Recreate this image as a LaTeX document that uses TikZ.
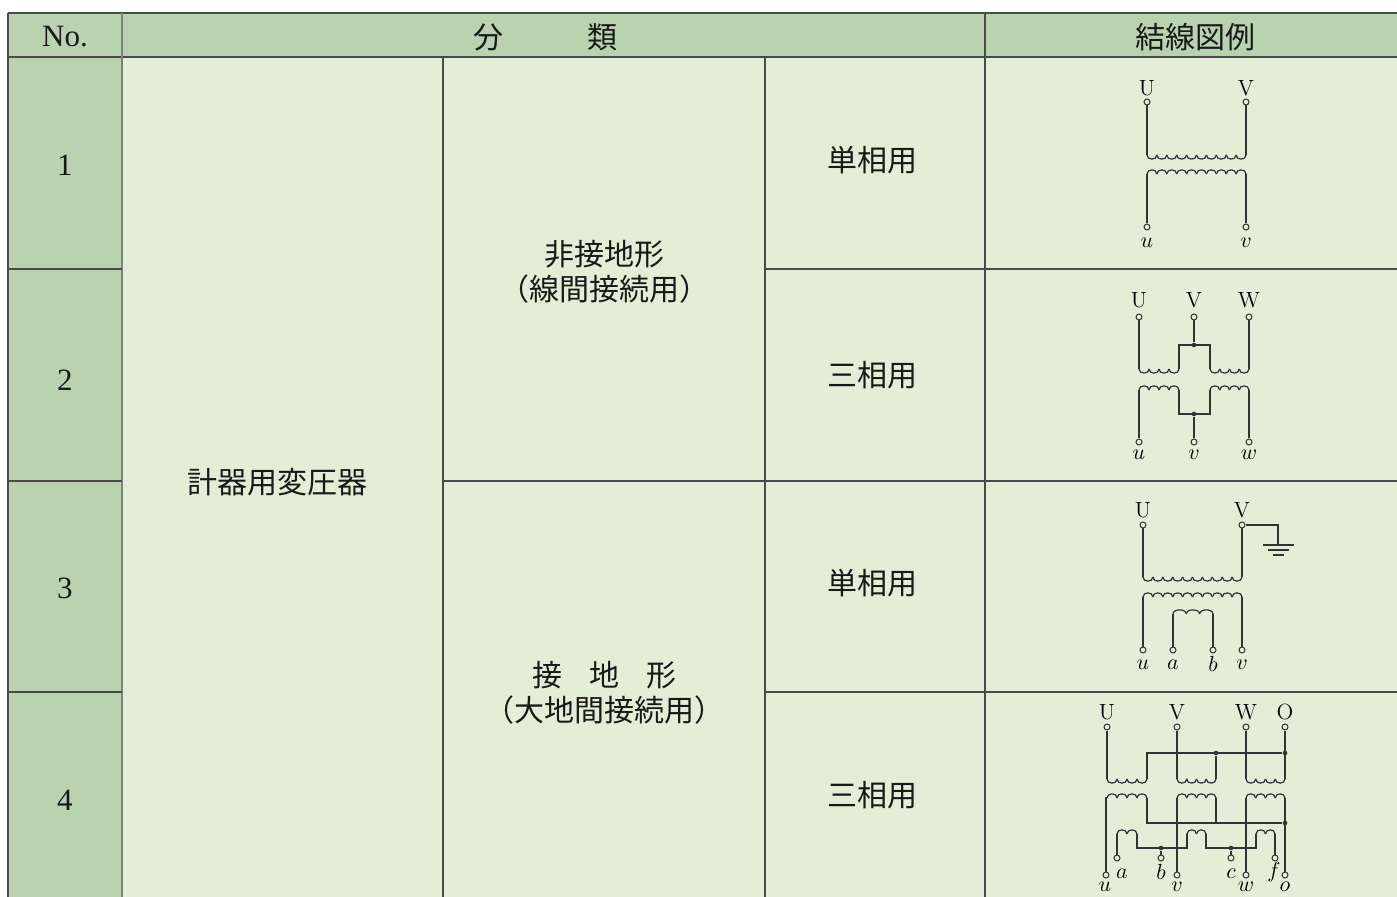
\documentclass[tikz,border=0pt]{standalone}
\usepackage{fontspec}
\newfontfamily\jp{Noto Sans CJK JP}
\newfontfamily\numfont{Liberation Serif}
\definecolor{headgreen}{HTML}{B9D2B0}
\definecolor{cellgreen}{HTML}{E2EFD6}
\definecolor{rulegray}{HTML}{4A4A4A}
\definecolor{wiregray}{HTML}{333333}

% one winding: x start, y, width, turns, bulge (+ down, - up)
\newcommand{\winding}[5]{%
  \pgfmathsetmacro{\turnw}{#3/#4}%
  \foreach \k in {1,...,#4}{%
    \draw[wire] ({#1+(\k-1)*\turnw},#2) .. controls ({#1+(\k-1)*\turnw},{#2+(#5)}) and ({#1+\k*\turnw},{#2+(#5)}) .. ({#1+\k*\turnw},#2);
  }%
}

\begin{document}
\begin{tikzpicture}[x=0.5pt, y=-0.5pt,
    wire/.style={draw=wiregray, line width=0.6pt},
    rule/.style={draw=rulegray, line width=0.6pt},
    term/.style={circle, draw=wiregray, line width=0.5pt, fill=cellgreen, inner sep=0pt, minimum size=3pt},
    junction/.style={circle, fill=wiregray, inner sep=0pt, minimum size=2.3pt},
    lbl/.style={font=\fontsize{11}{13}\selectfont, inner sep=0pt},
    jptext/.style={font=\jp\fontsize{15}{17.5}\selectfont, align=center, text=black!90},
    numtext/.style={font=\numfont\fontsize{15.5}{18}\selectfont, text=black!90}]
    \useasboundingbox (0,0) rectangle (1397,897);

    % Cells
    \fill[headgreen] (8,13) rectangle (1397,57);
    \fill[headgreen] (8,57) rectangle (122,897);
    \fill[cellgreen] (122,57) rectangle (1397,897);

    % Rules
    \draw[rule, line width=1.1pt] (8,13) -- (1397,13);
    \draw[rule] (8,57) -- (1397,57);
    \draw[rule, line width=1pt] (8,13) -- (8,897);
    \draw[rule, draw=gray, line width=0.9pt] (122,13) -- (122,897);
    \draw[rule] (443,57) -- (443,897);
    \draw[rule] (765,57) -- (765,897);
    \draw[rule] (985,13) -- (985,897);
    \draw[rule] (8,269) -- (122,269);
    \draw[rule] (8,481) -- (122,481);
    \draw[rule] (8,692) -- (122,692);
    \draw[rule] (765,269) -- (1397,269);
    \draw[rule] (443,481) -- (1397,481);
    \draw[rule] (765,692) -- (1397,692);

    % Header
    \node[numtext] (hno) at (65,37) {No.};
    \node[jptext] (hclass) at (545,37) {分\hspace{2.8em}類};
    \node[jptext] (hwire) at (1195,37) {結線図例};

    % Numbers
    \node[numtext] (n1) at (65,165) {1};
    \node[numtext] (n2) at (65,380) {2};
    \node[numtext] (n3) at (65,588) {3};
    \node[numtext] (n4) at (65,800) {4};

    % Classification
    \node[jptext] (vt) at (277,482) {計器用変圧器};
    \node[jptext] (ungr) at (604,272) {非接地形\\（線間接続用）};
    \node[jptext] (grnd) at (604,693) {接\hspace{0.9em}地\hspace{0.9em}形\\（大地間接続用）};
    \node[jptext] (r1) at (872,160) {単相用};
    \node[jptext] (r2) at (872,375) {三相用};
    \node[jptext] (r3) at (872,583) {単相用};
    \node[jptext] (r4) at (872,795) {三相用};

    % Diagram 1
    \node[term] (t1U) at (1147,102) {};
    \node[term] (t1V) at (1246,102) {};
    \node[term] (t1u) at (1147,227) {};
    \node[term] (t1v) at (1246,227) {};
    \draw[wire] (t1U) -- (1147,155);
    \draw[wire] (t1V) -- (1246,155);
    \winding{1147}{155}{99}{10}{5.5}
    \winding{1147}{174}{99}{10}{-5.5}
    \draw[wire] (t1u) -- (1147,174);
    \draw[wire] (t1v) -- (1246,174);
    \node[lbl] at (1147,88) {U};
    \node[lbl] at (1246,88) {V};
    \node[lbl] at (1147,243) {$u$};
    \node[lbl] at (1246,243) {$v$};

    % Diagram 2
    \node[term] (t2U) at (1139,317) {};
    \node[term] (t2V) at (1194,317) {};
    \node[term] (t2W) at (1249,317) {};
    \node[term] (t2u) at (1139,442) {};
    \node[term] (t2v) at (1194,442) {};
    \node[term] (t2w) at (1249,442) {};
    \node[junction] (j2p) at (1194,345) {};
    \node[junction] (j2s) at (1194,414) {};
    \draw[wire] (t2U) -- (1139,369);
    \draw[wire] (t2W) -- (1249,369);
    \draw[wire] (1179,369) |- (1210,345) -- (1210,369);
    \draw[wire] (t2V) -- (j2p);
    \winding{1139}{369}{40}{4}{5.5}
    \winding{1210}{369}{39}{4}{5.5}
    \winding{1139}{390}{40}{4}{-5.5}
    \winding{1210}{390}{39}{4}{-5.5}
    \draw[wire] (1179,390) |- (1210,414) -- (1210,390);
    \draw[wire] (t2u) -- (1139,390);
    \draw[wire] (t2w) -- (1249,390);
    \draw[wire] (t2v) -- (j2s);
    \node[lbl] at (1139,300) {U};
    \node[lbl] at (1194,300) {V};
    \node[lbl] at (1249,300) {W};
    \node[lbl] at (1139,455) {$u$};
    \node[lbl] at (1194,455) {$v$};
    \node[lbl] at (1249,455) {$w$};

    % Diagram 3
    \node[term] (t3U) at (1143,525) {};
    \node[term] (t3V) at (1242,525) {};
    \node[term] (t3u) at (1143,650) {};
    \node[term] (t3a) at (1173,650) {};
    \node[term] (t3b) at (1213,650) {};
    \node[term] (t3v) at (1242,650) {};
    \draw[wire] (t3U) -- (1143,577);
    \draw[wire] (t3V) -- (1242,577);
    \winding{1143}{577}{99}{10}{5.5}
    \winding{1143}{597}{99}{10}{-5.5}
    \winding{1173}{614}{40}{3}{-5.5}
    \draw[wire] (t3u) -- (1143,597);
    \draw[wire] (t3v) -- (1242,597);
    \draw[wire] (t3a) -- (1173,614);
    \draw[wire] (t3b) -- (1213,614);
    % Earth
    \draw[wire] (t3V) -| (1278,545);
    \draw[wire] (1263,545) -- (1294,545);
    \draw[wire] (1268,550) -- (1289,550);
    \draw[wire] (1273,555) -- (1284,555);
    \node[lbl] at (1143,510) {U};
    \node[lbl] at (1242,510) {V};
    \node[lbl] at (1143,665) {$u$};
    \node[lbl] at (1173,665) {$a$};
    \node[lbl] at (1213,664) {$b$};
    \node[lbl] at (1242,665) {$v$};

    % Diagram 4
    \node[term] (t4U) at (1107,727) {};
    \node[term] (t4V) at (1177,727) {};
    \node[term] (t4W) at (1246,727) {};
    \node[term] (t4O) at (1285,727) {};
    \node[term] (t4u) at (1106,875) {};
    \node[term] (t4v) at (1177,875) {};
    \node[term] (t4w) at (1246,875) {};
    \node[term] (t4o) at (1285,875) {};
    \node[term] (t4a) at (1117,858) {};
    \node[term] (t4b) at (1161,858) {};
    \node[term] (t4c) at (1231,858) {};
    \node[term] (t4f) at (1275,858) {};
    \node[junction] (j4p) at (1216,753) {};
    \node[junction] (j4n) at (1285,753) {};
    \node[junction] (j4s) at (1285,823) {};
    \node[junction] (j4b) at (1161,848) {};
    \node[junction] (j4c) at (1231,848) {};
    % primary
    \draw[wire] (t4U) -- (1107,779);
    \draw[wire] (t4V) -- (1177,779);
    \draw[wire] (t4W) -- (1246,779);
    \draw[wire] (t4O) -- (1285,779);
    \draw[wire] (1147,779) |- (j4n);
    \draw[wire] (1216,779) -- (j4p);
    \winding{1107}{779}{40}{4}{5.5}
    \winding{1177}{779}{39}{4}{5.5}
    \winding{1246}{779}{39}{4}{5.5}
    % secondary
    \winding{1107}{798}{40}{4}{-5.5}
    \winding{1177}{798}{39}{4}{-5.5}
    \winding{1246}{798}{39}{4}{-5.5}
    \draw[wire] (t4u) -- (1106,798) -- (1107,798);
    \draw[wire] (t4v) -- (1177,798);
    \draw[wire] (t4w) -- (1246,798);
    \draw[wire] (t4o) -- (1285,798);
    \draw[wire] (1147,798) |- (j4s);
    \draw[wire] (1216,798) -- (1216,823);
    % tertiary
    \winding{1117}{834}{20}{2}{-5.5}
    \winding{1187}{834}{19}{2}{-5.5}
    \winding{1256}{834}{19}{2}{-5.5}
    \draw[wire] (t4a) -- (1117,834);
    \draw[wire] (t4f) -- (1275,834);
    \draw[wire] (1137,834) |- (1187,848) -- (1187,834);
    \draw[wire] (1206,834) |- (1256,848) -- (1256,834);
    \draw[wire] (t4b) -- (j4b);
    \draw[wire] (t4c) -- (j4c);
    \node[lbl] at (1107,712) {U};
    \node[lbl] at (1177,712) {V};
    \node[lbl] at (1246,712) {W};
    \node[lbl] at (1285,712) {O};
    \node[lbl] at (1122,874) {$a$};
    \node[lbl] at (1161,872) {$b$};
    \node[lbl] at (1231,874) {$c$};
    \node[lbl] at (1274,872) {$f$};
    \node[lbl] at (1105,887) {$u$};
    \node[lbl] at (1177,887) {$v$};
    \node[lbl] at (1246,887) {$w$};
    \node[lbl] at (1285,887) {$o$};
\end{tikzpicture}
\end{document}
